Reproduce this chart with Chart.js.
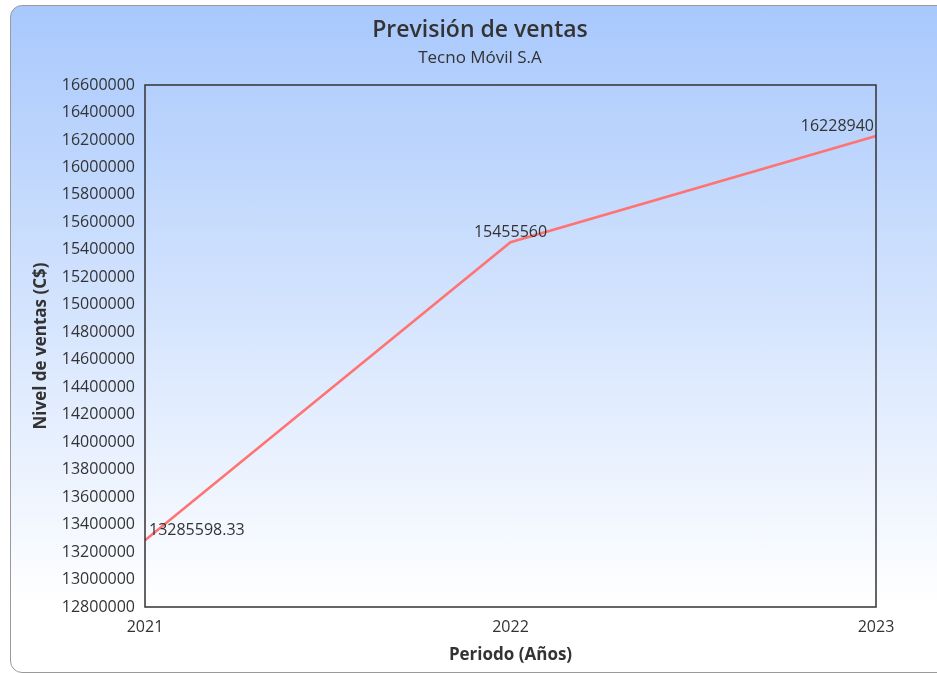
<!DOCTYPE html>
<html>
<head>
<meta charset="utf-8">
<script src="https://cdn.jsdelivr.net/npm/chart.js@4/dist/chart.umd.min.js"></script>
<style>
  html, body { margin: 0; padding: 0; width: 937px; height: 673px; overflow: hidden; background: #ffffff; }
  #card {
    position: absolute; left: 10px; top: 5px; width: 945px; height: 668px;
    border: 1.5px solid #9a9a9a; border-radius: 12px;
    background: linear-gradient(to bottom, #a8c8fc 0%, #ffffff 90%);
    box-sizing: border-box;
  }
  #c { position: absolute; left: 0; top: 0; }
</style>
</head>
<body>
<div id="card"></div>
<canvas id="c" width="937" height="673"></canvas>
<script>
const categories = ['2021', '2022', '2023'];
const salesValues = [13285598.33, 15455560, 16228940];
const valueLabels = ['13285598.33', '15455560', '16228940'];
const yMin = 12800000;
const yMax = 16600000;
const yStep = 200000;

const FONT = '"Open Sans", "Noto Sans", sans-serif';
const TEXT = '#333333';

const frameAndLabels = {
  id: 'frameAndLabels',
  afterDatasetsDraw(chart) {
    const ctx = chart.ctx;
    const a = chart.chartArea;
    ctx.save();
    ctx.strokeStyle = '#333333';
    ctx.lineWidth = 1.5;
    ctx.strokeRect(a.left, a.top, a.right - a.left, a.bottom - a.top);
    const meta = chart.getDatasetMeta(0);
    ctx.font = '16px ' + FONT;
    ctx.fillStyle = TEXT;
    ctx.textBaseline = 'middle';
    ctx.textAlign = 'left';
    meta.data.forEach((pt, i) => {
      const txt = valueLabels[i];
      const w = ctx.measureText(txt).width;
      let x = pt.x - w / 2;
      if (x < a.left + 4) x = a.left + 4;
      if (x + w > a.right - 2) x = a.right - 2 - w;
      ctx.fillText(txt, x, pt.y - 10);
    });
    ctx.restore();
  }
};

new Chart(document.getElementById('c'), {
  type: 'line',
  data: {
    labels: categories,
    datasets: [{
      data: salesValues,
      borderColor: '#ff7373',
      borderWidth: 2.5,
      pointRadius: 0,
      tension: 0,
      fill: false
    }]
  },
  options: {
    responsive: false,
    animation: false,
    devicePixelRatio: 1,
    layout: { padding: { left: 23, right: 0, top: 5, bottom: 0 } },
    plugins: {
      legend: { display: false },
      tooltip: { enabled: false },
      title: {
        display: true,
        text: 'Previsión de ventas',
        color: TEXT,
        font: { family: FONT, size: 23, weight: '600' },
        padding: { top: 12, bottom: 0 }
      },
      subtitle: {
        display: true,
        text: 'Tecno Móvil S.A',
        color: TEXT,
        font: { family: FONT, size: 17, weight: '500' },
        padding: { top: 3, bottom: 17 }
      }
    },
    scales: {
      x: {
        type: 'category',
        offset: false,
        grid: { display: false, drawTicks: false },
        border: { display: false },
        ticks: { color: TEXT, font: { family: FONT, size: 16 }, padding: 11, maxRotation: 0 },
        title: {
          display: true,
          text: 'Periodo (Años)',
          color: TEXT,
          font: { family: FONT, size: 17, weight: 'bold' },
          padding: { top: 0, bottom: 8 }
        },
        afterFit(s) { s.height = 66; }
      },
      y: {
        min: yMin,
        max: yMax,
        grid: { display: false, drawTicks: false },
        border: { display: false },
        ticks: {
          stepSize: yStep,
          autoSkip: false,
          color: TEXT,
          font: { family: FONT, size: 16 },
          padding: 10,
          callback: (v) => String(v)
        },
        title: {
          display: true,
          text: 'Nivel de ventas (C$)',
          color: TEXT,
          font: { family: FONT, size: 17, weight: 'bold' },
          padding: { top: 8, bottom: 0 }
        },
        afterFit(s) { s.width = 122; }
      },
      yRight: {
        type: 'linear',
        position: 'right',
        display: true,
        grid: { display: false, drawTicks: false },
        border: { display: false },
        ticks: { display: false },
        afterFit(s) { s.width = 61; }
      }
    }
  },
  plugins: [frameAndLabels]
});
</script>
</body>
</html>
